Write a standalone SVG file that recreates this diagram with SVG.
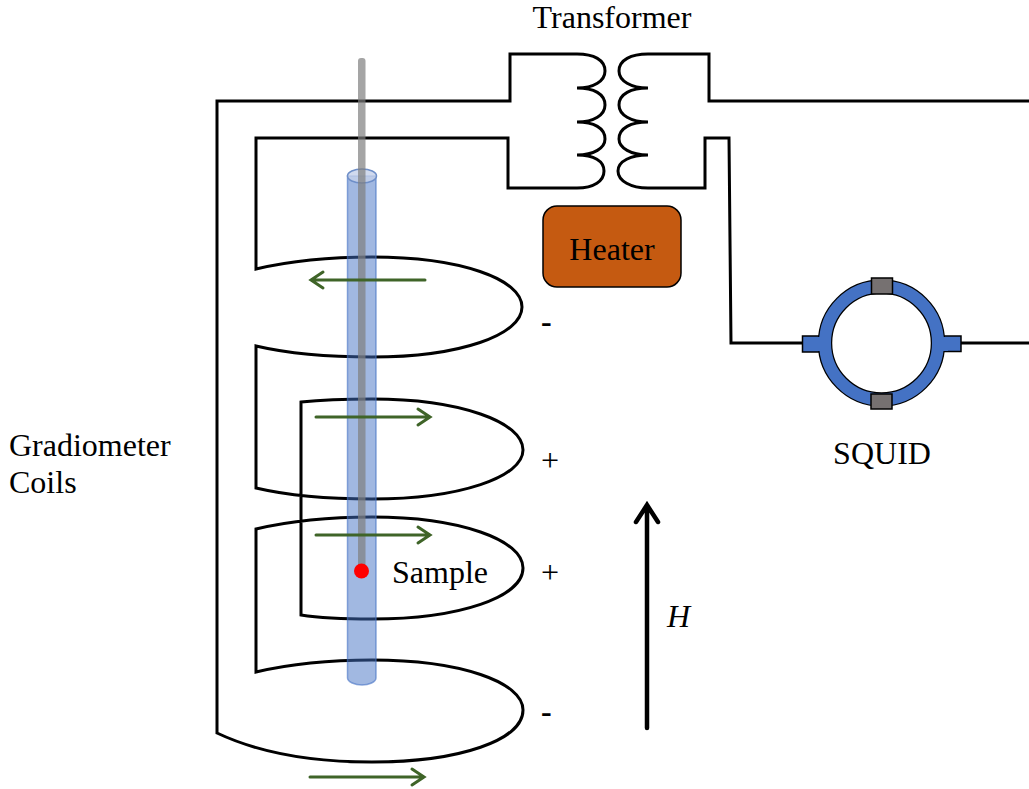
<svg xmlns="http://www.w3.org/2000/svg" width="1029" height="789" viewBox="0 0 1029 789">
<style>
text{font-family:"Liberation Serif","Times New Roman",serif;font-size:32px;fill:#000}
.w{fill:none;stroke:#000;stroke-width:3;stroke-linejoin:miter}
.g{fill:none;stroke:#3f6428;stroke-width:3;stroke-linecap:round;stroke-linejoin:miter}
.sq{stroke:#000;stroke-width:1.500}
</style>
<rect width="1029" height="789" fill="#fff"/>
<g id="connectors">
<path class="w" d="M577 54H510V101H217V733C270 758 330 762 372 762C460 762 523 740 523 710C523 682 460 660 372 660C330 660 290 664 256 672V529C290 521 330 517 372 517C460 517 523 540 523 568C523 597 460 619 372 619C345 619 320 618 301 615V402C320 400 345 399 372 399C460 399 523 422 523 450C523 477 460 499 372 499C330 499 290 496 256 488V346C290 354 330 357 372 357C460 357 522 335 522 307C522 279 460 257 372 257C330 257 290 261 256 269V138H508V188H577"/>
<path class="w" d="M577 54C594 54 605 60 605 71C605 81 594 88 577 88C594 88 605 94 605 105C605 115 594 122 577 122C594 122 605 128 605 139C605 148 594 155 577 155C594 155 604 161 604 171C604 181 594 188 577 188"/>
<path class="w" d="M648 54C631 54 619 60 619 71C619 81 631 88 648 88C631 88 619 94 619 105C619 115 631 122 648 122C631 122 619 128 619 139C619 148 631 155 648 155C631 155 618 161 618 171C618 181 631 188 648 188"/>
<path class="w" d="M648 54H709V101H1029"/>
<path class="w" d="M648 188H705V138H729L731 343H802"/>
<path class="w" d="M961 343H1029"/>
</g>
<g id="tube">
<path d="M347.500 176V678C347.500 682 355 685 362 685C369 685 376 682 376 678V176Z" fill="#4472c4" fill-opacity=".5" stroke="#4472c4" stroke-opacity=".6" stroke-width="1.500"/>
<ellipse cx="362" cy="176" rx="14.500" ry="7" fill="#c5d1ea" fill-opacity=".8" stroke="#6f8fc8" stroke-width="1.500"/>
</g>
<g id="rod">
<rect x="358" y="58" width="7.500" height="513" rx="3" fill="#7f7f7f" fill-opacity=".7"/>
</g>
<g id="sample">
<circle cx="361.500" cy="571" r="7.500" fill="#ff0000"/>
<text x="392" y="583">Sample</text>
</g>
<g id="field-arrows">
<path class="g" d="M425 280H311M323 272L311 280L323 288"/>
<path class="g" d="M316 417H430M418 409L430 417L418 425"/>
<path class="g" d="M316 535H430M418 527L430 535L418 543"/>
<path class="g" d="M310 777H424M412 769L424 777L412 785"/>
</g>
<g id="heater">
<rect x="543" y="206" width="138" height="81" rx="14" fill="#c55a11" stroke="#000" stroke-width="1.500"/>
<text x="612" y="260" text-anchor="middle">Heater</text>
</g>
<g id="squid">
<rect class="sq" x="802.500" y="336" width="20" height="16" fill="#4472c4"/>
<rect class="sq" x="941" y="336" width="20" height="15.500" fill="#4472c4"/>
<circle cx="881.500" cy="343" r="56.500" fill="none" stroke="#000" stroke-width="14.500"/>
<circle cx="881.500" cy="343" r="56.500" fill="none" stroke="#4472c4" stroke-width="12"/>
<rect x="815" y="337" width="9" height="14" fill="#4472c4"/>
<rect x="939" y="337" width="9" height="14" fill="#4472c4"/>
<rect class="sq" x="871.500" y="278" width="21" height="16" fill="#767171"/>
<rect class="sq" x="871" y="394" width="21" height="15" fill="#767171"/>
<text x="882" y="464" text-anchor="middle">SQUID</text>
</g>
<g id="h-field">
<path d="M647 728V505M636 522L647 505L658 522" fill="none" stroke="#000" stroke-width="4.500" stroke-linecap="round"/>
<text x="667" y="627" font-style="italic">H</text>
</g>
<g id="labels">
<text x="612" y="28" text-anchor="middle">Transformer</text>
<text x="9" y="456">Gradiometer</text>
<text x="9" y="493">Coils</text>
<text x="541" y="332" font-weight="bold">-</text>
<text x="541" y="471">+</text>
<text x="541" y="583">+</text>
<text x="541" y="722" font-weight="bold">-</text>
</g>
</svg>
